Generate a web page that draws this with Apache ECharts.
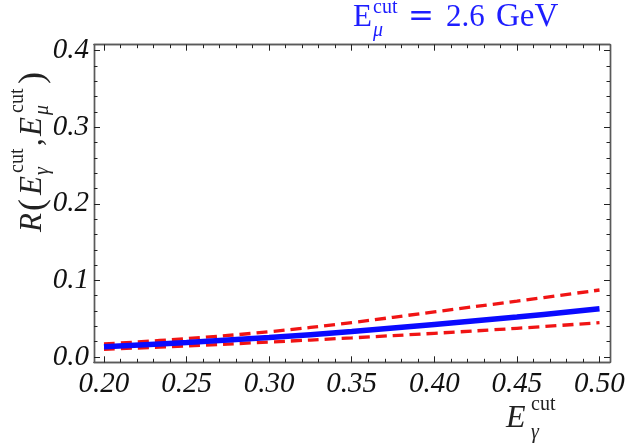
<!DOCTYPE html>
<html><head><meta charset="utf-8">
<script src="https://cdn.jsdelivr.net/npm/echarts@6/dist/echarts.min.js"></script>
<style>html,body{margin:0;padding:0;background:#fff}#c{width:628px;height:445px}</style>
</head><body><div id="c"></div>
<script>
// ---- data ----
const xValues = [0.20, 0.25, 0.30, 0.35, 0.40, 0.45, 0.50];
const central = [0.0134, 0.0190, 0.0255, 0.0333, 0.0425, 0.0522, 0.0630];
const upper   = [0.0170, 0.0240, 0.0330, 0.0450, 0.0590, 0.0730, 0.0875];
const lower   = [0.0100, 0.0145, 0.0195, 0.0250, 0.0310, 0.0375, 0.0448];
const xMajorTicks = [0.20, 0.25, 0.30, 0.35, 0.40, 0.45, 0.50];
const xMinorTicks = [0.20,0.21,0.22,0.23,0.24,0.25,0.26,0.27,0.28,0.29,0.30,0.31,0.32,0.33,0.34,0.35,0.36,0.37,0.38,0.39,0.40,0.41,0.42,0.43,0.44,0.45,0.46,0.47,0.48,0.49,0.50];
const yMajorTicks = [0.0, 0.1, 0.2, 0.3, 0.4];
const yMinorTicks = [0.00,0.02,0.04,0.06,0.08,0.10,0.12,0.14,0.16,0.18,0.20,0.22,0.24,0.26,0.28,0.30,0.32,0.34,0.36,0.38,0.40];
const X_MIN = 0.19395, X_MAX = 0.50636;
const Y_MIN = -0.0069, Y_MAX = 0.4078;

const FRAME = '#5a5a5a', TICK = '#222';
const SERIF = '"Liberation Serif", "Times New Roman", serif';

function xAxis(pos, vals, len, withLabels) {
  return {
    type: 'value', min: X_MIN, max: X_MAX, position: pos,
    axisLine: { show: true, onZero: false, lineStyle: { color: FRAME, width: 1.4 } },
    splitLine: { show: false },
    axisTick: { show: true, inside: true, length: len, customValues: vals, lineStyle: { color: TICK, width: 1 } },
    axisLabel: withLabels ? { show: true, customValues: vals, margin: 8, fontFamily: SERIF, fontStyle: 'italic', fontSize: 29, color: '#111', formatter: v => v.toFixed(2) } : { show: false }
  };
}
function yAxis(pos, vals, len, withLabels) {
  return {
    type: 'value', min: Y_MIN, max: Y_MAX, position: pos,
    axisLine: { show: true, onZero: false, lineStyle: { color: FRAME, width: 1.4 } },
    splitLine: { show: false },
    axisTick: { show: true, inside: true, length: len, customValues: vals, lineStyle: { color: TICK, width: 1 } },
    axisLabel: withLabels ? { show: true, customValues: vals, margin: 5, fontFamily: SERIF, fontStyle: 'italic', fontSize: 29, color: '#111', formatter: v => v.toFixed(1) } : { show: false }
  };
}

const pairs = arr => xValues.map((x, i) => [x, arr[i]]);

function txt(text, x, baseY, size, italic, color, family) {
  return { type: 'text', x: x, y: baseY - 0.3 * size,
    style: { text: text, font: (italic ? 'italic ' : '') + size + 'px ' + (family || SERIF),
             fill: color || '#222', align: 'left', verticalAlign: 'middle' } };
}

// y-axis title pieces, local x measured upward from the bottom of the label
const M = 31, S = 20, SUP = -18, SUB = 7;
const yTitle = [
  txt('R', 0, 0, M, true),
  txt('(', 21, 2, 36, false),
  txt('E', 37, 0, M, true),
  txt('cut', 59, SUP, S, false),
  txt('γ', 57, SUB, S, true),
  txt(',', 86, 0, M, false),
  txt('E', 96, 0, M, true),
  txt('cut', 119, SUP, S, false),
  txt('μ', 117, SUB, S, true),
  txt(')', 148, 2, 36, false)
];

const BLUE = '#1e1eff';
const chart = echarts.init(document.getElementById('c'), null, { renderer: 'canvas' });
chart.setOption({
  backgroundColor: '#fff',
  animation: false,
  grid: { left: 94, right: 18, top: 44.7, bottom: 82.7, containLabel: false },
  xAxis: [
    xAxis('bottom', xMajorTicks, 6, true),
    xAxis('bottom', xMinorTicks, 3.5, false),
    xAxis('top', xMajorTicks, 6, false),
    xAxis('top', xMinorTicks, 3.5, false)
  ],
  yAxis: [
    yAxis('left', yMajorTicks, 6, true),
    yAxis('left', yMinorTicks, 3.5, false),
    yAxis('right', yMajorTicks, 6, false),
    yAxis('right', yMinorTicks, 3.5, false)
  ],
  series: [
    { name: 'upper', type: 'line', data: pairs(upper), smooth: 0.4, showSymbol: false,
      lineStyle: { color: '#f01414', width: 3.3, type: [11, 6] }, z: 3 },
    { name: 'lower', type: 'line', data: pairs(lower), smooth: 0.4, showSymbol: false,
      lineStyle: { color: '#f01414', width: 3.3, type: [11, 6] }, z: 3 },
    { name: 'central', type: 'line', data: pairs(central), smooth: 0.4, showSymbol: false,
      lineStyle: { color: '#0a0aff', width: 5.5 }, z: 4 }
  ],
  graphic: [
    // top title
    txt('E', 353, 27, 31, false, BLUE),
    txt('cut', 373, 14, 20, false, BLUE),
    txt('μ', 373, 37, 20, true, BLUE),
    txt('=', 408, 27, 31, false, BLUE, '"DejaVu Serif", serif'),
    txt('2.6', 446, 27, 31, false, BLUE),
    txt('GeV', 496, 27, 33, false, BLUE),
    // x title
    txt('E', 506, 428, 32, true),
    txt('cut', 531, 411, 20, false),
    txt('γ', 531, 439, 20, true),
    // y title
    { type: 'group', x: 42, y: 232, rotation: Math.PI / 2, children: yTitle }
  ]
});
</script></body></html>
